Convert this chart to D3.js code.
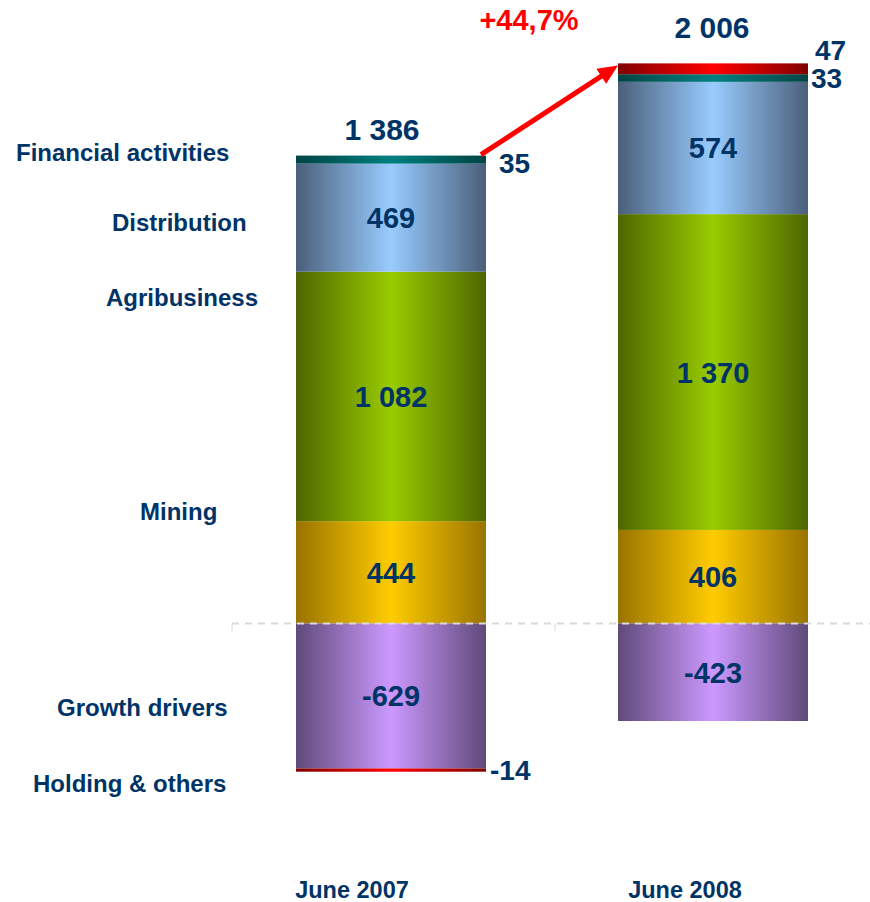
<!DOCTYPE html>
<html>
<head>
<meta charset="utf-8">
<script src="https://cdn.jsdelivr.net/npm/d3@7"></script>
<style>
  body { margin: 0; background: #fff; }
  svg text { font-family: "Liberation Sans", Arial, sans-serif; font-weight: bold; }
</style>
</head>
<body>
<svg id="viz" width="870" height="902"></svg>
<script>
// data
var periods = ["June 2007", "June 2008"];
var segments = ["Mining", "Agribusiness", "Distribution", "Financial activities", "Growth drivers", "Holding & others"];
var june2007 = [444, 1082, 469, 35, -629, -14];
var june2008 = [406, 1370, 574, 33, -423, 47];
var totals = [1386, 2006];

// styles
var edgeColor   = ["#997300", "#4d6600", "#4a5f7a", "#004444", "#5f4a7a", "#800000"];
var centerColor = ["#ffcc00", "#99cc00", "#99ccff", "#008080", "#cc99ff", "#ff0000"];
var navy = "#003366";

// where the left hand category names sit
var catLabelPos = [
  {x: 140, y: 520}, {x: 106, y: 306}, {x: 112, y: 231},
  {x: 16, y: 161}, {x: 57, y: 716}, {x: 33, y: 792}
];
// small segments get their number outside the bar
var outsideOffset = {
  "June 2007|Financial activities": {dx: 13, dy: 13},
  "June 2007|Holding & others": {dx: 4, dy: 10},
  "June 2008|Financial activities": {dx: 3, dy: 10},
  "June 2008|Holding & others": {dx: 7, dy: -9}
};
var totalOffset = [{dx: -9, dy: -16}, {dx: -1, dy: -25}];
var periodOffset = [-39, -28];

var svg = d3.select("#viz");
var locale = d3.formatLocale({decimal: ",", thousands: " ", grouping: [3], currency: ["", ""], minus: "-"});
var fmt = locale.format(",d");
var pct = locale.format("+.1%");

var table = periods.map(function(p, i) {
  var vals = i === 0 ? june2007 : june2008;
  var row = {period: p};
  segments.forEach(function(s, j) { row[s] = vals[j]; });
  return row;
});

var stack = d3.stack().keys(segments).offset(d3.stackOffsetDiverging);
var series = stack(table);

var x = d3.scaleBand().domain(periods).range([296, 808]).paddingInner(0.41).paddingOuter(0);
var y = d3.scaleLinear().domain([-1000, 2500]).range([854, 47.25]);

// gradients
var defs = svg.append("defs");
segments.forEach(function(s, j) {
  var g = defs.append("linearGradient").attr("id", "grad" + j)
    .attr("x1", "0%").attr("x2", "100%").attr("y1", "0%").attr("y2", "0%");
  g.append("stop").attr("offset", "0%").attr("stop-color", edgeColor[j]);
  g.append("stop").attr("offset", "50%").attr("stop-color", centerColor[j]);
  g.append("stop").attr("offset", "100%").attr("stop-color", edgeColor[j]);
});

// bars
series.forEach(function(ser, j) {
  svg.append("g").selectAll("rect")
    .data(ser)
    .join("rect")
      .attr("x", function(d) { return x(d.data.period); })
      .attr("width", x.bandwidth())
      .attr("y", function(d) { return y(Math.max(d[0], d[1])); })
      .attr("height", function(d) { return Math.abs(y(d[0]) - y(d[1])); })
      .attr("fill", "url(#grad" + j + ")");
});

// zero line
svg.append("line")
  .attr("x1", 232).attr("x2", 870).attr("y1", y(0)).attr("y2", y(0))
  .style("stroke", "#d9d9d9").style("stroke-width", 2).style("stroke-dasharray", "7,6");
[232, 555].forEach(function(tx) {
  svg.append("line").attr("x1", tx).attr("x2", tx).attr("y1", y(0)).attr("y2", y(0) + 8)
    .style("stroke", "#d9d9d9").style("stroke-width", 1);
});

// segment numbers
series.forEach(function(ser, j) {
  ser.forEach(function(d) {
    var v = d.data[ser.key];
    var key = d.data.period + "|" + ser.key;
    var mid = (y(d[0]) + y(d[1])) / 2;
    var t = svg.append("text").text(fmt(v)).style("fill", navy);
    if (outsideOffset[key]) {
      t.attr("x", x(d.data.period) + x.bandwidth() + outsideOffset[key].dx)
       .attr("y", mid + outsideOffset[key].dy)
       .style("font-size", "28px");
    } else {
      t.attr("x", x(d.data.period) + x.bandwidth() / 2)
       .attr("y", mid + 10.5)
       .attr("text-anchor", "middle")
       .style("font-size", "29px");
    }
  });
});

// totals above bars
var tops = periods.map(function(p, i) {
  return d3.max(series, function(ser) { return ser[i][1]; });
});
periods.forEach(function(p, i) {
  svg.append("text")
    .attr("x", x(p) + x.bandwidth() / 2 + totalOffset[i].dx)
    .attr("y", y(tops[i]) + totalOffset[i].dy)
    .attr("text-anchor", "middle")
    .style("font-size", "30px").style("fill", navy)
    .text(fmt(totals[i]));
  svg.append("text")
    .attr("x", x(p) + x.bandwidth() / 2 + periodOffset[i])
    .attr("y", 898)
    .attr("text-anchor", "middle")
    .style("font-size", "23.5px").style("fill", navy)
    .text(p);
});

// category names
segments.forEach(function(s, j) {
  svg.append("text")
    .attr("x", catLabelPos[j].x).attr("y", catLabelPos[j].y)
    .style("font-size", "24px").style("fill", navy)
    .text(s);
});

// growth arrow
var x0 = x(periods[0]) + x.bandwidth() - 5, y0 = y(tops[0]) - 1;
var x1 = x(periods[1]), y1 = y(tops[1]) + 2;
var dx = x1 - x0, dy = y1 - y0, len = Math.sqrt(dx * dx + dy * dy);
var ux = dx / len, uy = dy / len;
var headLen = 20, headW = 9;
var bx = x1 - ux * headLen, by = y1 - uy * headLen;
svg.append("line")
  .attr("x1", x0).attr("y1", y0).attr("x2", bx + ux * 2).attr("y2", by + uy * 2)
  .style("stroke", "#ff0000").style("stroke-width", 5);
svg.append("path")
  .attr("d", "M" + x1 + "," + y1 +
    " L" + (bx - uy * headW) + "," + (by + ux * headW) +
    " L" + (bx + uy * headW) + "," + (by - ux * headW) + " Z")
  .style("fill", "#ff0000");

svg.append("text")
  .attr("x", 529).attr("y", 30)
  .attr("text-anchor", "middle")
  .style("font-size", "29px").style("fill", "#ff0000")
  .text(pct(totals[1] / totals[0] - 1));
</script>
</body>
</html>
